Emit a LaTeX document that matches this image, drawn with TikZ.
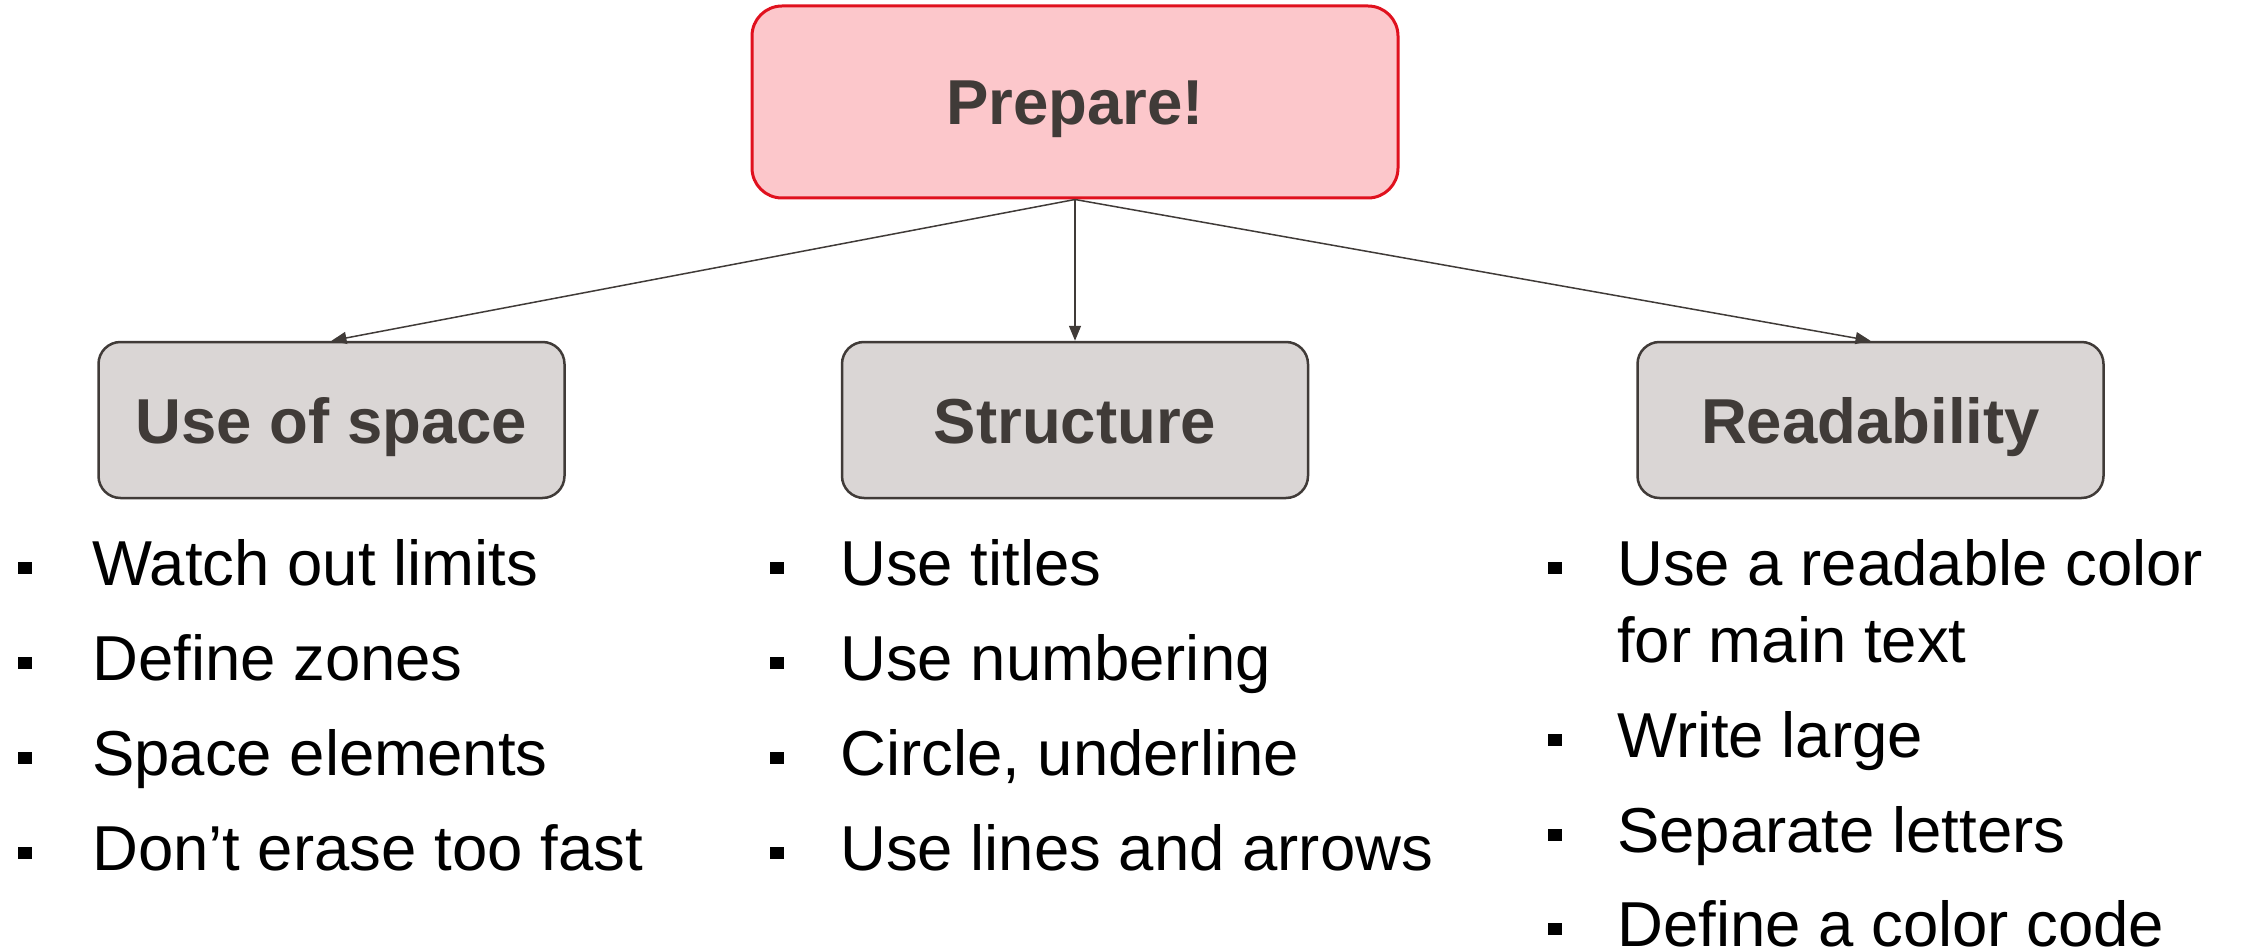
\documentclass[tikz,border=0pt]{standalone}
\usepackage{fontspec}
\setmainfont{Liberation Sans}
\usetikzlibrary{arrows.meta}
\definecolor{pinkfill}{HTML}{FCC7CB}
\definecolor{redline}{HTML}{E0111E}
\definecolor{grayfill}{HTML}{DAD6D5}
\definecolor{darkline}{HTML}{403B38}
\tikzset{
  topbox/.style={rectangle, rounded corners=30pt, draw=redline, line width=3pt, fill=pinkfill,
    minimum width=646pt, minimum height=192pt, inner sep=0pt, text height=46pt, text depth=0pt,
    text=darkline, font=\fontsize{63.5}{77}\selectfont\bfseries},
  catbox/.style={rectangle, rounded corners=22pt, draw=darkline, line width=2.5pt, fill=grayfill,
    minimum width=466pt, minimum height=156pt, inner sep=0pt, text height=46pt, text depth=0pt,
    text=darkline, font=\fontsize{63.5}{77}\selectfont\bfseries},
  conn/.style={draw=darkline, line width=1.5pt, -{Triangle[length=15pt,width=12pt]}},
  bul/.style={rectangle, fill=black, inner sep=0pt, minimum width=14pt, minimum height=12pt},
  itemtext/.style={anchor=base west, inner sep=0pt, align=left, text=black,
    font=\fontsize{63.5}{77}\selectfont}
}
\begin{document}
\begin{tikzpicture}[x=1pt,y=-1pt]
\useasboundingbox (0,0) rectangle (2241,952);
\node[topbox] (top) at (1075,102) {Prepare!};
\node[catbox] (space) at (331.5,420) {Use of space};
\node[catbox] (struct) at (1075,420) {Structure};
\node[catbox] (read) at (1870.5,420) {Readability};
\draw[conn] (top.south) -- (space.north);
\draw[conn] (top.south) -- (struct.north);
\draw[conn] (top.south) -- (read.north);
% left column
\node[bul] (bl1) at (24.5,567.5) {};
\node[bul] (bl2) at (24.5,662.5) {};
\node[bul] (bl3) at (24.5,757.5) {};
\node[bul] (bl4) at (24.5,852.5) {};
\node[itemtext] (l1) at (92,585) {Watch out limits};
\node[itemtext] (l2) at (92,680) {Define zones};
\node[itemtext] (l3) at (92,775) {Space elements};
\node[itemtext] (l4) at (92,870) {Don’t erase too fast};
% middle column
\node[bul] (bm1) at (776.5,567.5) {};
\node[bul] (bm2) at (776.5,662.5) {};
\node[bul] (bm3) at (776.5,757.5) {};
\node[bul] (bm4) at (776.5,852.5) {};
\node[itemtext] (m1) at (840,585) {Use titles};
\node[itemtext] (m2) at (840,680) {Use numbering};
\node[itemtext] (m3) at (840,775) {Circle, underline};
\node[itemtext] (m4) at (840,870) {Use lines and arrows};
% right column
\node[bul] (br1) at (1554.5,567.5) {};
\node[bul] (br2) at (1554.5,739.5) {};
\node[bul] (br3) at (1554.5,834.5) {};
\node[bul] (br4) at (1554.5,928.5) {};
\node[itemtext] (r1) at (1617,662) {Use a readable color\\for main text};
\node[itemtext] (r2) at (1617,757) {Write large};
\node[itemtext] (r3) at (1617,852) {Separate letters};
\node[itemtext] (r4) at (1617,946) {Define a color code};
\end{tikzpicture}
\end{document}
